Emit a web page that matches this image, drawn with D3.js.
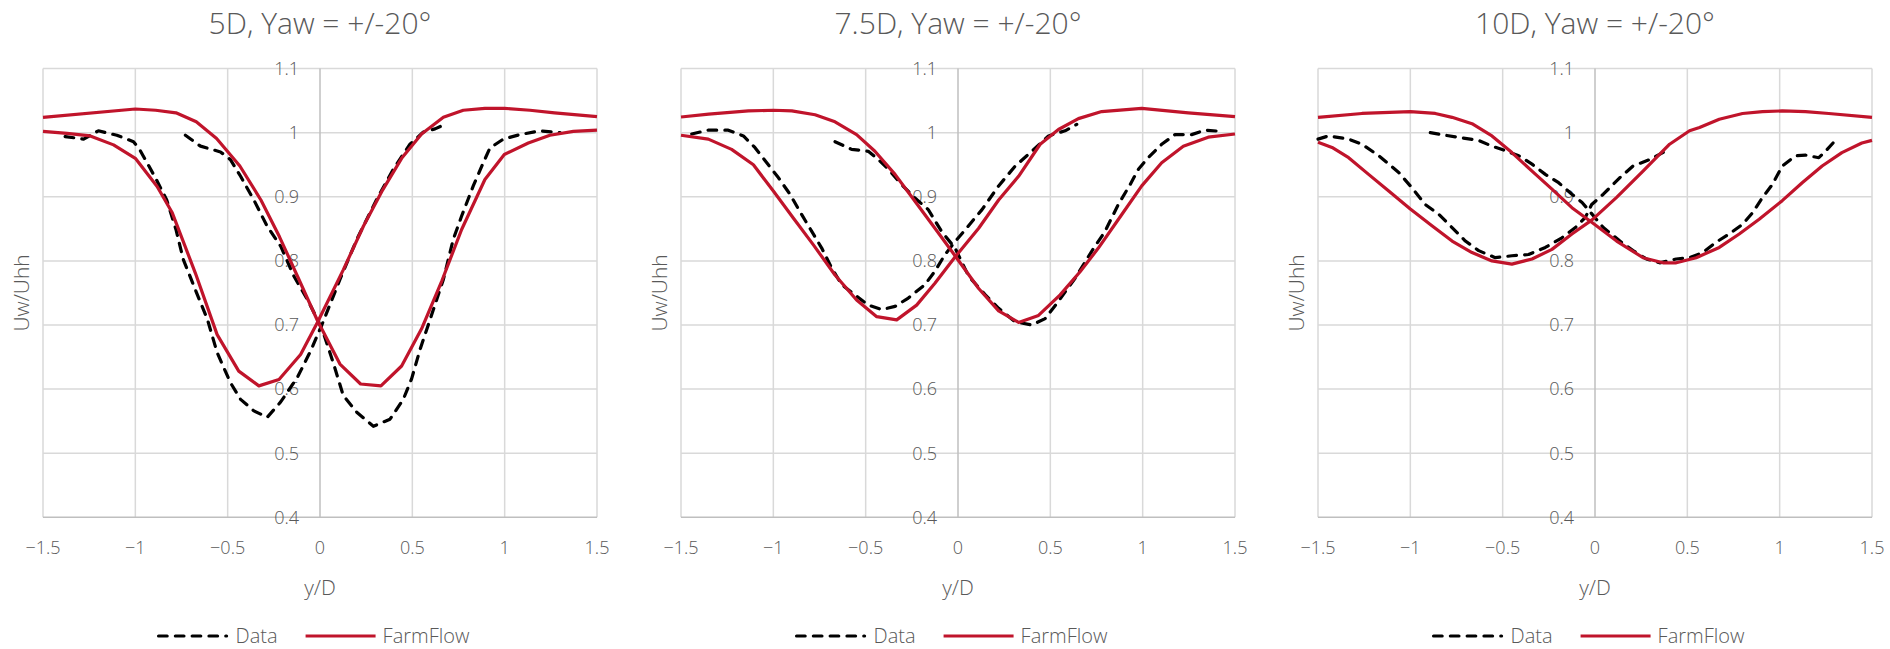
<!DOCTYPE html>
<html>
<head>
<meta charset="utf-8">
<script src="https://cdn.jsdelivr.net/npm/d3@7"></script>
<style>
  html, body { margin: 0; padding: 0; background: #ffffff; }
  svg { display: block; }
  text { font-family: "Segoe UI Light", "Open Sans", "Noto Sans", sans-serif; font-weight: 300; fill: #595959; }
</style>
</head>
<body>
<svg id="chart" width="1890" height="649"></svg>
<script>
// ---- wake profiles: [y/D, Uw/Uhh] ----
// 5D downstream
const data5A = [[-1.38,0.994],[-1.28,0.99],[-1.2,1.003],[-1.1,0.996],[-1.01,0.986],[-0.975,0.973],[-0.89,0.929],[-0.83,0.895],[-0.78,0.849],[-0.74,0.802],[-0.675,0.755],[-0.61,0.709],[-0.557,0.657],[-0.485,0.61],[-0.43,0.584],[-0.358,0.566],[-0.286,0.556],[-0.213,0.58],[-0.123,0.618],[-0.05,0.66],[0.01,0.7],[0.108,0.771],[0.2,0.834],[0.307,0.896],[0.397,0.943],[0.487,0.982],[0.56,1.001],[0.623,1.006],[0.686,1.014]];
const data5B = [[-0.729,0.996],[-0.647,0.979],[-0.539,0.97],[-0.485,0.958],[-0.43,0.932],[-0.358,0.895],[-0.286,0.854],[-0.213,0.823],[-0.141,0.776],[-0.069,0.74],[-0.014,0.709],[0.018,0.688],[0.072,0.641],[0.126,0.59],[0.199,0.564],[0.289,0.542],[0.379,0.553],[0.451,0.584],[0.496,0.616],[0.542,0.662],[0.614,0.724],[0.668,0.771],[0.722,0.834],[0.767,0.87],[0.83,0.917],[0.884,0.953],[0.92,0.976],[0.993,0.99],[1.083,0.997],[1.19,1.003],[1.3,1.0]];
const farm5A = [[-1.5,1.024],[-1.0,1.037],[-0.89,1.035],[-0.78,1.031],[-0.67,1.017],[-0.56,0.991],[-0.434,0.948],[-0.32,0.895],[-0.22,0.838],[-0.114,0.771],[-0.014,0.707],[0.108,0.639],[0.22,0.608],[0.33,0.605],[0.442,0.636],[0.55,0.694],[0.66,0.769],[0.767,0.849],[0.893,0.927],[0.998,0.966],[1.128,0.984],[1.245,0.996],[1.372,1.002],[1.5,1.004]];
const farm5B = [[-1.5,1.002],[-1.37,0.999],[-1.244,0.995],[-1.118,0.981],[-1.0,0.96],[-0.882,0.916],[-0.8,0.875],[-0.675,0.781],[-0.557,0.685],[-0.44,0.628],[-0.331,0.605],[-0.222,0.615],[-0.105,0.654],[-0.014,0.704],[0.126,0.786],[0.235,0.854],[0.334,0.908],[0.442,0.96],[0.55,0.998],[0.668,1.024],[0.776,1.035],[0.893,1.038],[1.0,1.038],[1.137,1.035],[1.27,1.031],[1.5,1.025]];

// 7.5D downstream
const data75A = [[-1.442,0.998],[-1.352,1.004],[-1.244,1.004],[-1.162,0.995],[-1.1,0.977],[-1.027,0.95],[-0.973,0.93],[-0.91,0.904],[-0.856,0.877],[-0.792,0.846],[-0.738,0.82],[-0.684,0.789],[-0.63,0.763],[-0.558,0.747],[-0.486,0.731],[-0.413,0.724],[-0.341,0.729],[-0.269,0.742],[-0.179,0.763],[-0.125,0.784],[-0.07,0.81],[-0.016,0.83],[0.04,0.849],[0.13,0.88],[0.22,0.917],[0.31,0.948],[0.4,0.971],[0.49,0.995],[0.58,1.003],[0.643,1.013]];
const data75B = [[-0.666,0.986],[-0.576,0.974],[-0.486,0.971],[-0.431,0.958],[-0.377,0.943],[-0.305,0.919],[-0.233,0.898],[-0.161,0.88],[-0.089,0.846],[-0.016,0.82],[0.058,0.776],[0.148,0.747],[0.22,0.726],[0.31,0.705],[0.4,0.7],[0.472,0.71],[0.544,0.737],[0.634,0.773],[0.724,0.815],[0.796,0.846],[0.868,0.888],[0.932,0.919],[0.977,0.943],[1.03,0.961],[1.103,0.982],[1.175,0.997],[1.265,0.997],[1.337,1.004],[1.427,1.002]];
const farm75A = [[-1.5,1.0245],[-1.35,1.029],[-1.135,1.034],[-1.0,1.035],[-0.9,1.034],[-0.774,1.028],[-0.666,1.017],[-0.549,0.997],[-0.45,0.971],[-0.341,0.935],[-0.233,0.893],[-0.125,0.851],[-0.016,0.808],[0.112,0.757],[0.22,0.722],[0.328,0.704],[0.436,0.715],[0.553,0.747],[0.661,0.783],[0.76,0.82],[0.886,0.872],[0.995,0.917],[1.103,0.953],[1.22,0.979],[1.355,0.993],[1.5,0.998]];
const farm75B = [[-1.5,0.996],[-1.352,0.99],[-1.226,0.974],[-1.108,0.95],[-1.0,0.909],[-0.892,0.867],[-0.783,0.825],[-0.666,0.778],[-0.549,0.739],[-0.44,0.713],[-0.332,0.708],[-0.224,0.731],[-0.125,0.765],[-0.016,0.806],[0.112,0.851],[0.22,0.895],[0.328,0.932],[0.445,0.982],[0.544,1.005],[0.652,1.022],[0.778,1.033],[0.995,1.038],[1.247,1.031],[1.5,1.025]];

// 10D downstream
const data10A = [[-1.5,0.99],[-1.442,0.995],[-1.334,0.99],[-1.262,0.982],[-1.171,0.964],[-1.063,0.938],[-0.991,0.914],[-0.919,0.888],[-0.847,0.873],[-0.774,0.852],[-0.702,0.831],[-0.63,0.816],[-0.54,0.805],[-0.45,0.808],[-0.36,0.81],[-0.269,0.821],[-0.179,0.836],[-0.106,0.852],[-0.052,0.868],[-0.018,0.888],[0.045,0.904],[0.135,0.93],[0.206,0.948],[0.296,0.958],[0.386,0.972]];
const data10B = [[-0.892,1.0],[-0.81,0.996],[-0.72,0.992],[-0.63,0.988],[-0.558,0.979],[-0.486,0.972],[-0.413,0.964],[-0.341,0.951],[-0.269,0.935],[-0.197,0.922],[-0.125,0.904],[-0.07,0.891],[-0.016,0.873],[0.045,0.852],[0.135,0.831],[0.206,0.816],[0.278,0.803],[0.35,0.797],[0.44,0.803],[0.512,0.805],[0.583,0.813],[0.655,0.829],[0.727,0.842],[0.799,0.857],[0.853,0.875],[0.907,0.899],[0.96,0.919],[1.014,0.948],[1.086,0.964],[1.14,0.965],[1.212,0.961],[1.248,0.971],[1.302,0.988]];
const farm10A = [[-1.5,1.024],[-1.262,1.03],[-1.0,1.033],[-0.865,1.03],[-0.774,1.024],[-0.666,1.014],[-0.558,0.995],[-0.45,0.969],[-0.341,0.94],[-0.233,0.912],[-0.125,0.883],[-0.016,0.86],[0.117,0.831],[0.26,0.805],[0.368,0.797],[0.44,0.797],[0.548,0.805],[0.673,0.821],[0.781,0.842],[0.889,0.865],[1.014,0.894],[1.122,0.922],[1.23,0.948],[1.337,0.969],[1.445,0.984],[1.5,0.988]];
const farm10B = [[-1.5,0.985],[-1.424,0.977],[-1.334,0.961],[-1.226,0.935],[-1.117,0.909],[-1.0,0.881],[-0.883,0.855],[-0.774,0.831],[-0.666,0.813],[-0.558,0.8],[-0.45,0.795],[-0.341,0.803],[-0.233,0.818],[-0.125,0.842],[-0.016,0.864],[0.117,0.899],[0.26,0.94],[0.404,0.982],[0.512,1.003],[0.566,1.008],[0.673,1.021],[0.799,1.03],[0.907,1.033],[1.014,1.034],[1.14,1.033],[1.266,1.03],[1.5,1.024]];

// ---- axis & panel labels ----
const panelTitles = ["5D, Yaw = +/-20°", "7.5D, Yaw = +/-20°", "10D, Yaw = +/-20°"];
const xTicks = [-1.5, -1, -0.5, 0, 0.5, 1, 1.5];
const yTicks = [0.4, 0.5, 0.6, 0.7, 0.8, 0.9, 1.0, 1.1];
const xTitle = "y/D";
const yTitle = "Uw/Uhh";
const seriesNames = ["Data", "FarmFlow"];

const panels = [
  { title: panelTitles[0], data: [data5A, data5B], farm: [farm5A, farm5B] },
  { title: panelTitles[1], data: [data75A, data75B], farm: [farm75A, farm75B] },
  { title: panelTitles[2], data: [data10A, data10B], farm: [farm10A, farm10B] }
];

// ---- layout ----
const plotLefts = [43, 681, 1318];
const plotW = 554;
const plotTop = 68.6, plotBottom = 517.3;
const RED = "#c0142b";
const GRID = "#d9d9d9";
const AXIS = "#bfbfbf";
const DASH = "8.6,8.2";

const svg = d3.select("#chart");

panels.forEach((p, i) => {
  const x = d3.scaleLinear().domain([-1.5, 1.5]).range([plotLefts[i], plotLefts[i] + plotW]);
  const y = d3.scaleLinear().domain([0.4, 1.1]).range([plotBottom, plotTop]);
  const g = svg.append("g");
  const cx = x(0);

  // gridlines
  g.append("g").selectAll("line").data(xTicks.filter(t => t !== 0)).join("line")
    .attr("x1", d => x(d)).attr("x2", d => x(d))
    .attr("y1", y(1.1)).attr("y2", y(0.4))
    .attr("stroke", GRID).attr("stroke-width", 1.5);
  g.append("g").selectAll("line").data(yTicks.filter(t => t !== 0.4)).join("line")
    .attr("x1", x(-1.5)).attr("x2", x(1.5))
    .attr("y1", d => y(d)).attr("y2", d => y(d))
    .attr("stroke", GRID).attr("stroke-width", 1.5);

  // axis lines
  g.append("line").attr("x1", x(-1.5)).attr("x2", x(1.5))
    .attr("y1", y(0.4)).attr("y2", y(0.4)).attr("stroke", AXIS).attr("stroke-width", 1.5);
  g.append("line").attr("x1", x(0)).attr("x2", x(0))
    .attr("y1", y(1.1)).attr("y2", y(0.4)).attr("stroke", AXIS).attr("stroke-width", 1.5);

  // y tick labels sit beside the centre axis
  g.append("g").selectAll("text").data(yTicks).join("text")
    .attr("x", x(0) - 21).attr("y", d => y(d))
    .attr("dy", "0.35em").attr("text-anchor", "end")
    .attr("font-size", 18)
    .text(d => d3.format("~g")(d));

  // x tick labels
  g.append("g").selectAll("text").data(xTicks).join("text")
    .attr("x", d => x(d)).attr("y", 548)
    .attr("dy", "0.35em").attr("text-anchor", "middle")
    .attr("font-size", 18)
    .text(d => d3.format("~g")(d));

  // axis titles
  g.append("text").attr("x", cx).attr("y", 588).attr("dy", "0.35em")
    .attr("text-anchor", "middle").attr("font-size", 21).text(xTitle);
  g.append("text")
    .attr("transform", `translate(${x(-1.5) - 21},${(y(1.1) + y(0.4)) / 2}) rotate(-90)`)
    .attr("dy", "0.35em").attr("text-anchor", "middle").attr("font-size", 21).text(yTitle);

  // panel title
  g.append("text").attr("x", cx).attr("y", 23).attr("dy", "0.35em")
    .attr("text-anchor", "middle").attr("font-size", 30).text(p.title);

  const line = d3.line().x(d => x(d[0])).y(d => y(d[1]));

  // measured profiles (dashed)
  g.append("g").selectAll("path").data(p.data).join("path")
    .attr("d", line).attr("fill", "none")
    .attr("stroke", "#000").attr("stroke-width", 3.2)
    .attr("stroke-dasharray", DASH).attr("stroke-linecap", "round")
    .attr("stroke-linejoin", "round");

  // FarmFlow predictions
  g.append("g").selectAll("path").data(p.farm).join("path")
    .attr("d", line).attr("fill", "none")
    .attr("stroke", RED).attr("stroke-width", 3.2)
    .attr("stroke-linejoin", "round");

  // legend
  const lg = g.append("g");
  const ly = 636;
  lg.append("line").attr("x1", 0).attr("x2", 68).attr("y1", ly).attr("y2", ly)
    .attr("stroke", "#000").attr("stroke-width", 3.2)
    .attr("stroke-dasharray", DASH).attr("stroke-linecap", "round");
  const t1 = lg.append("text").attr("x", 77).attr("y", ly).attr("dy", "0.35em")
    .attr("font-size", 20).text(seriesNames[0]);
  const x2 = 77 + t1.node().getComputedTextLength() + 28;
  lg.append("line").attr("x1", x2).attr("x2", x2 + 70).attr("y1", ly).attr("y2", ly)
    .attr("stroke", RED).attr("stroke-width", 3.2);
  const t2 = lg.append("text").attr("x", x2 + 77).attr("y", ly).attr("dy", "0.35em")
    .attr("font-size", 20).text(seriesNames[1]);
  const total = x2 + 77 + t2.node().getComputedTextLength();
  lg.attr("transform", `translate(${cx - 6 - total / 2},0)`);
});
</script>
</body>
</html>
